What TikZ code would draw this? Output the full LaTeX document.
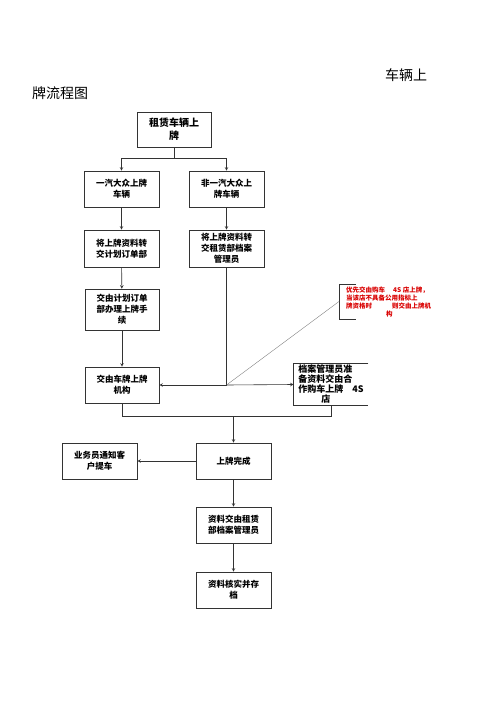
\documentclass[tikz,border=0pt]{standalone}
\usepackage{fontspec}
\setmainfont{Noto Sans CJK SC}
\usetikzlibrary{calc}

\begin{document}
\begin{tikzpicture}[x=1pt, y=-1pt,
    box/.style={rectangle, minimum width=75pt, minimum height=36pt, text centered, align=center, draw=black!80, line width=0.6pt, inner sep=1pt, font=\fontsize{8.5pt}{11pt}\selectfont\bfseries},
    link/.style={draw=black!80, line width=0.6pt},
    arrow/.style={link, ->, >=stealth},
    title/.style={font=\fontsize{14pt}{16pt}\selectfont}
]
\useasboundingbox (0,0) rectangle (500,708);

% TITLE
\node[title] (title1) at (406,75) {车辆上};
\node[title] (title2) at (60,93) {牌流程图};

% START
\node[box, minimum width=74pt, minimum height=35pt, font=\fontsize{10pt}{13pt}\selectfont\bfseries] (start) at (174,129.5) {租赁车辆上\\牌};

% Two kinds of vehicles
\node[box] (faw) at (121.5,189) {一汽大众上牌\\车辆};
\node[box] (nonfaw) at (226.5,189) {非一汽大众上\\牌车辆};

\node[box, minimum height=37pt] (toplan) at (121.5,248.5) {将上牌资料转\\交计划订单部};
\node[box, minimum height=37pt] (toarchive) at (226.5,248.5) {将上牌资料转\\交租赁部档案\\管理员};

\node[box, minimum width=74pt, minimum height=41pt] (plan) at (122,309.5) {交由计划订单\\部办理上牌手\\续};
\node[box, minimum width=74pt] (agency) at (122,385) {交由车牌上牌\\机构};

% 4S shop box (open on the right)
\node[box, draw=none, minimum width=74pt, minimum height=41pt, align=left, font=\fontsize{9pt}{10pt}\selectfont\bfseries] (shop) at (331,384.5) {档案管理员准\\备资料交由合\\作购车上牌\quad 4S\\\hspace*{23pt}店};
\draw[link] (shop.north east) -- (shop.north west) -- (shop.south west) -- (shop.south east);

% Red note
\node[anchor=west, align=left, text=red!85!black, inner xsep=7pt, inner ysep=2pt, minimum height=35pt, font=\fontsize{6.5pt}{8pt}\selectfont\bfseries] (note) at (339,301.5) {优先交由购车\hspace{8pt}4S 店上牌，\\当该店不具备公用指标上\\牌资格时\hspace{20pt}则交由上牌机\\\hspace*{40pt}构};
\draw[link] ([xshift=17pt]note.north west) -- (note.north west) -- (note.south west) -- ([xshift=17pt]note.south west);

% LOWER PART
\node[box] (done) at (233.5,461) {上牌完成};
\node[box] (notify) at (99.5,461) {业务员通知客\\户提车};
\node[box] (handover) at (233.5,525) {资料交由租赁\\部档案管理员};
\node[box] (filed) at (233.5,590) {资料核实并存\\档};

% Split after start
\coordinate (split) at ($(start.south)+(0,11)$);
\draw[link] (start.south) -- (split);
\draw[arrow] (split) -| (faw.north);
\draw[arrow] (split) -| (nonfaw.north);

% Vertical flows
\draw[arrow] (faw) -- (toplan);
\draw[arrow] (nonfaw) -- (toarchive);
\draw[arrow] (toplan) -- (plan);
\draw[arrow] (plan) -- (agency);

% Archive branch to agency or 4S shop
\coordinate (hub) at (toarchive.south |- agency.east);
\draw[link] (toarchive.south) -- (hub);
\draw[arrow] (hub) -- (agency.east);
\draw[arrow] (hub) -- (shop.west);
\draw[gray, line width=0.4pt] (hub) -- (note.west);

% Join into done
\coordinate (join) at ($(agency.south)+(0,13)$);
\draw[link] (agency.south) -- (join) -| (shop.south);
\draw[arrow] (done.north |- join) -- (done.north);

\draw[arrow] (done) -- (notify);
\draw[arrow] (done) -- (handover);
\draw[arrow] (handover) -- (filed);

\end{tikzpicture}
\end{document}
